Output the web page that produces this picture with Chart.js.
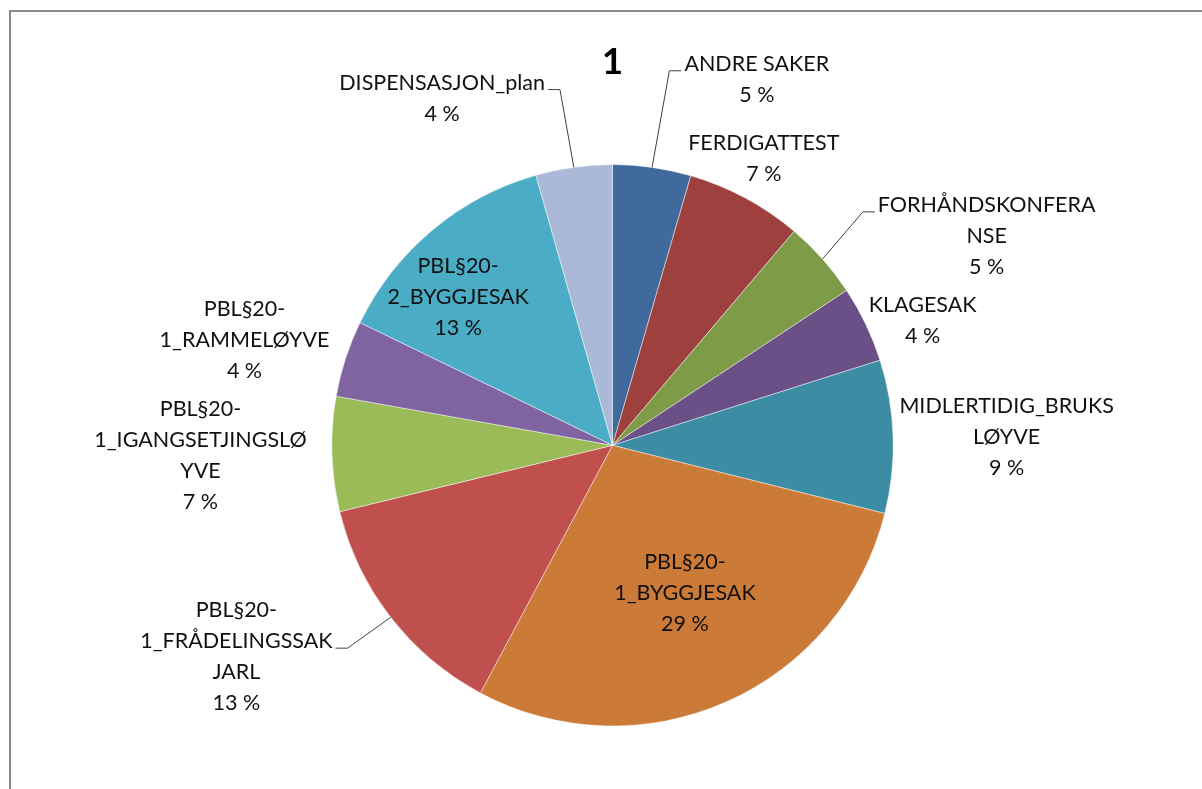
<!DOCTYPE html>
<html lang="no">
<head>
    <meta charset="UTF-8">
    <title>Saker fordelt på type</title>
    <style>
        body {
            margin: 0;
            padding: 0;
            background: #fff;
            overflow: hidden;
        }
        .wrap {
            position: relative;
            width: 1202px;
            height: 789px;
        }
        .frame {
            position: absolute;
            left: 9px;
            top: 10px;
            width: 1300px;
            height: 900px;
            border-left: 2px solid #8a8a8a;
            border-top: 2px solid #8a8a8a;
        }
        canvas {
            position: absolute;
            left: 0;
            top: 0;
        }
    </style>
</head>
<body>
    <div class="wrap">
        <div class="frame"></div>
        <canvas id="pieChart"></canvas>
    </div>

    <script src="https://cdn.jsdelivr.net/npm/chart.js"></script>
    <script>
        // categories, clockwise from 12 o'clock
        const categories = [
            'ANDRE SAKER', 'FERDIGATTEST', 'FORHÅNDSKONFERANSE', 'KLAGESAK',
            'MIDLERTIDIG_BRUKSLØYVE', 'PBL§20-1_BYGGJESAK', 'PBL§20-1_FRÅDELINGSSAK JARL',
            'PBL§20-1_IGANGSETJINGSLØYVE', 'PBL§20-1_RAMMELØYVE', 'PBL§20-2_BYGGJESAK',
            'DISPENSASJON_plan'
        ];
        // share of cases (%)
        const shares = [4.5, 6.7, 4.5, 4.4, 8.8, 28.9, 13.4, 6.6, 4.4, 13.4, 4.4];

        // how Excel wrapped the label text
        const labelLines = [
            ['ANDRE SAKER'],
            ['FERDIGATTEST'],
            ['FORHÅNDSKONFERA', 'NSE'],
            ['KLAGESAK'],
            ['MIDLERTIDIG_BRUKS', 'LØYVE'],
            ['PBL§20-', '1_BYGGJESAK'],
            ['PBL§20-', '1_FRÅDELINGSSAK', 'JARL'],
            ['PBL§20-', '1_IGANGSETJINGSLØ', 'YVE'],
            ['PBL§20-', '1_RAMMELØYVE'],
            ['PBL§20-', '2_BYGGJESAK'],
            ['DISPENSASJON_plan']
        ];

        const colors = [
            '#406a9c', '#9e413e', '#7e9b48', '#6a5086', '#3c8ca3', '#cc7a37',
            '#c0504d', '#9bbb59', '#8064a2', '#4bacc6', '#aab9d7'
        ];

        // label block centre relative to pie centre, in radii; leader = which line gets the connector
        const labelPos = [
            { x: 0.514, y: -1.304, leader: 0 },
            { x: 0.539, y: -1.020 },
            { x: 1.333, y: -0.746, leader: 0 },
            { x: 1.105, y: -0.443 },
            { x: 1.404, y: -0.030 },
            { x: 0.258, y: 0.528 },
            { x: -1.340, y: 0.753, leader: 1 },
            { x: -1.468, y: 0.037 },
            { x: -1.311, y: -0.375 },
            { x: -0.550, y: -0.528 },
            { x: -0.607, y: -1.237, leader: 0 }
        ];

        const FONT = '"Lato", "Open Sans", sans-serif';

        const sliceLabels = {
            id: 'sliceLabels',
            afterDatasetsDraw(chart) {
                const ctx = chart.ctx;
                const meta = chart.getDatasetMeta(0);
                const values = chart.data.datasets[0].data;
                const total = values.reduce((a, b) => a + b, 0);
                const lh = 31;
                ctx.save();
                ctx.font = '21.5px ' + FONT;
                ctx.textAlign = 'center';
                ctx.textBaseline = 'middle';
                meta.data.forEach((arc, i) => {
                    const p = arc.getProps(['x', 'y', 'startAngle', 'endAngle', 'outerRadius'], true);
                    const R = p.outerRadius;
                    const pct = Math.round(values[i] / total * 100 + 1e-9);
                    const lines = labelLines[i].concat([pct + ' %']);
                    const lx = p.x + labelPos[i].x * R;
                    const top = p.y + labelPos[i].y * R - (lines.length - 1) * lh / 2;

                    ctx.fillStyle = '#111';
                    lines.forEach((t, k) => ctx.fillText(t, lx, top + k * lh));

                    if (labelPos[i].leader !== undefined) {
                        const k = labelPos[i].leader;
                        const mid = (p.startAngle + p.endAngle) / 2;
                        const sx = p.x + Math.cos(mid) * R;
                        const sy = p.y + Math.sin(mid) * R;
                        const side = lx > p.x ? 1 : -1;
                        const half = ctx.measureText(lines[k]).width / 2;
                        const ex = lx - side * (half + 3);
                        const ey = top + k * lh + 7;
                        ctx.strokeStyle = '#404040';
                        ctx.lineWidth = 1;
                        ctx.beginPath();
                        ctx.moveTo(sx, sy);
                        ctx.lineTo(ex - side * 12, ey);
                        ctx.lineTo(ex, ey);
                        ctx.stroke();
                    }
                });
                ctx.restore();
            }
        };

        const ctxPie = document.getElementById('pieChart').getContext('2d');
        new Chart(ctxPie, {
            type: 'pie',
            data: {
                labels: categories,
                datasets: [{
                    data: shares,
                    backgroundColor: colors,
                    borderColor: 'rgba(255,255,255,0.45)',
                    borderWidth: 1
                }]
            },
            options: {
                responsive: true,
                maintainAspectRatio: false,
                animation: false,
                layout: {
                    padding: { top: 0, bottom: 62.5, left: 300, right: 277 }
                },
                plugins: {
                    legend: { display: false },
                    tooltip: { enabled: false },
                    title: {
                        display: true,
                        text: '1',
                        color: '#000',
                        font: { family: FONT, size: 37, weight: 'bold', lineHeight: 1.2 },
                        padding: { top: 40, bottom: 79.7 }
                    }
                }
            },
            plugins: [sliceLabels]
        });
    </script>
</body>
</html>
